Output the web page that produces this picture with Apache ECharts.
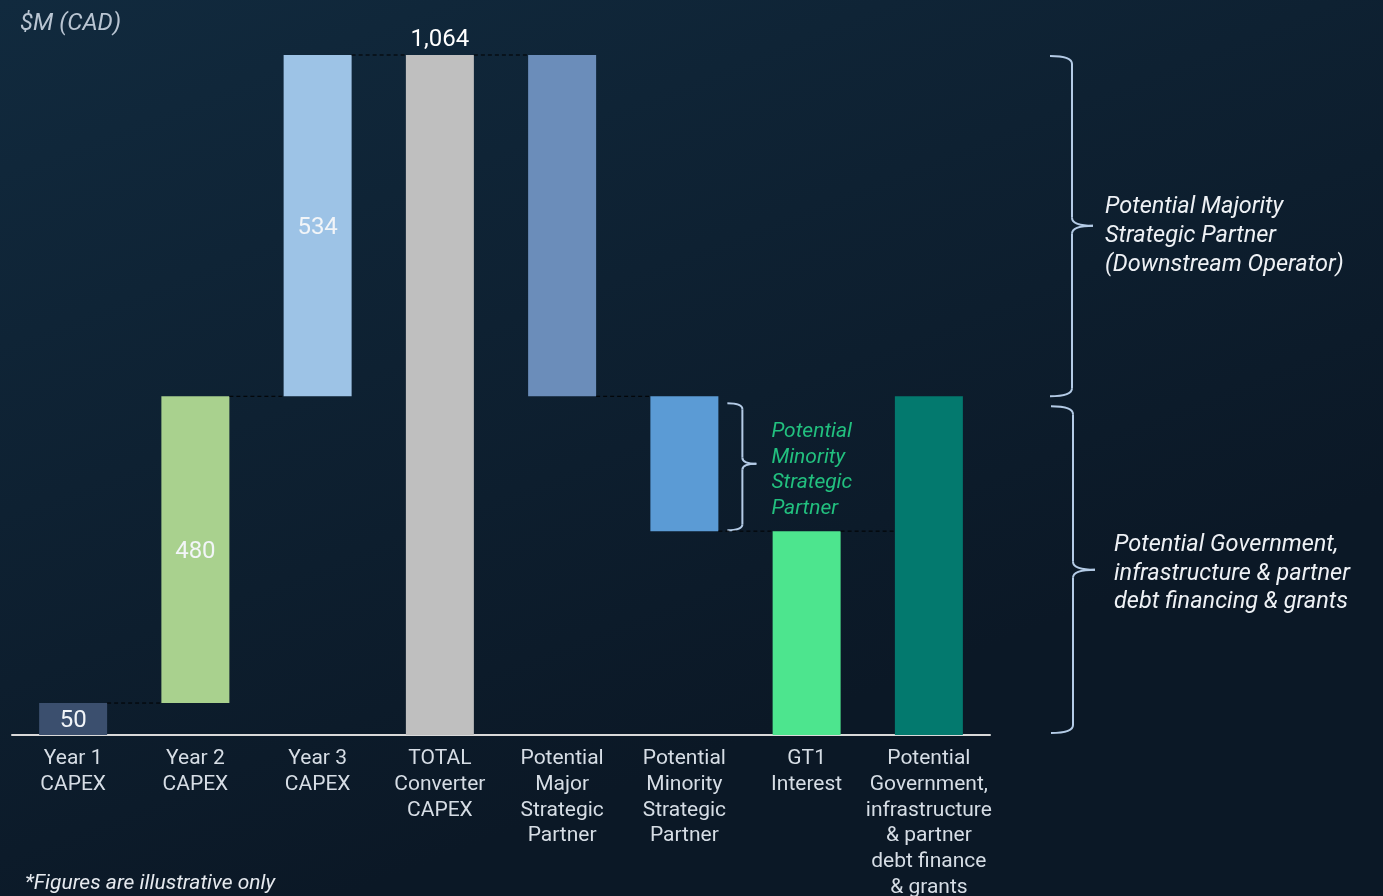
<!DOCTYPE html>
<html><head><meta charset="utf-8">
<script src="https://cdn.jsdelivr.net/npm/echarts@6/dist/echarts.min.js"></script>
<style>html,body{margin:0;padding:0;background:#0d2131;}#c{width:1383px;height:896px;}</style>
</head><body><div id="c"></div>
<script>
const categories = ['Year 1\nCAPEX','Year 2\nCAPEX','Year 3\nCAPEX','TOTAL\nConverter\nCAPEX','Potential\nMajor\nStrategic\nPartner','Potential\nMinority\nStrategic\nPartner','GT1\nInterest','Potential\nGovernment,\ninfrastructure\n& partner\ndebt finance\n& grants'];
const baseValues = [0, 50, 530, 0, 530, 319, 0, 0];
const barValues = [50, 480, 534, 1064, 534, 211, 319, 530];
const shownLabels = ['50', '480', '534', '1,064', '', '', '', ''];
const barColors = ['#3b4f6e','#a9d18e','#9dc3e6','#bfbfbf','#6b8dba','#5b9bd5','#4de58e','#03796e'];
// connector level between bar i and bar i+1 (end of bar i)
const connectorLevels = [
  baseValues[0]+barValues[0], baseValues[1]+barValues[1], baseValues[2]+barValues[2],
  baseValues[3]+barValues[3], baseValues[4], baseValues[5], baseValues[6]+barValues[6]
];
const FONT = 'Roboto';
const BARW = 68;

const chart = echarts.init(document.getElementById('c'));
chart.setOption({
  backgroundColor: {type:'linear', x:0, y:0, x2:0.25, y2:1, colorStops:[{offset:0,color:'#112a3e'},{offset:1,color:'#0b1826'}]},
  animation: false,
  grid: {left: 12, right: 393, top: 32, bottom: 161, outerBoundsMode: 'none', containLabel: false},
  xAxis: {
    type: 'category', data: categories,
    axisLine: {show: true, lineStyle: {color: '#d9d9d9', width: 2}},
    axisTick: {show: false},
    axisLabel: {interval: 0, color: '#d6dde5', fontFamily: FONT, fontSize: 21, lineHeight: 25.7, margin: 11}
  },
  yAxis: {type: 'value', min: 0, max: 1100, show: false, splitLine: {show: false}},
  series: [
    {type: 'bar', stack: 'w', data: baseValues, barWidth: BARW, itemStyle: {color: 'transparent'}, silent: true},
    {type: 'bar', stack: 'w', barWidth: BARW,
     data: barValues.map((v, i) => ({
       value: v,
       itemStyle: {color: barColors[i]},
       label: {show: shownLabels[i] !== '', formatter: shownLabels[i], position: i === 3 ? 'top' : 'inside',
               distance: 3, offset: i === 3 ? [0, 0] : [0, 2], color: i === 3 ? '#ffffff' : '#f2f5f8', fontFamily: FONT, fontSize: 24}
     }))},
    {type: 'custom', data: connectorLevels.map((l, i) => [i, l]), z: 5,
     renderItem: function (params, api) {
       const i = api.value(0), l = api.value(1);
       const a = api.coord([i, l]);
       const b = api.coord([i + 1, l]);
       return {type: 'line', shape: {x1: a[0] + BARW/2, y1: a[1], x2: b[0] - BARW/2, y2: b[1]},
               style: {stroke: '#000000', lineWidth: 1, lineDash: [4, 3]}};
     }}
  ]
});

const braceStyle = {stroke: '#b4cbe6', lineWidth: 2, fill: null};
function brace(x0, xv, xt, yTop, yBot, yMid, r) {
  return [
    {type: 'bezierCurve', shape: {x1: x0, y1: yTop, cpx1: xv, cpy1: yTop, x2: xv, y2: yTop + r}, style: braceStyle},
    {type: 'line', shape: {x1: xv, y1: yTop + r, x2: xv, y2: yMid - r}, style: braceStyle},
    {type: 'bezierCurve', shape: {x1: xv, y1: yMid - r, cpx1: xv, cpy1: yMid, x2: xt, y2: yMid}, style: braceStyle},
    {type: 'bezierCurve', shape: {x1: xt, y1: yMid, cpx1: xv, cpy1: yMid, x2: xv, y2: yMid + r}, style: braceStyle},
    {type: 'line', shape: {x1: xv, y1: yMid + r, x2: xv, y2: yBot - r}, style: braceStyle},
    {type: 'bezierCurve', shape: {x1: xv, y1: yBot - r, cpx1: xv, cpy1: yBot, x2: x0, y2: yBot}, style: braceStyle}
  ];
}
const yPx = v => chart.convertToPixel({yAxisIndex: 0}, v);
const xPx = i => chart.convertToPixel({xAxisIndex: 0}, i);
const yTotal = yPx(1064), yMidLvl = yPx(530), yZero = yPx(0), yGt = yPx(319);
const b1Mid = yTotal + (yMidLvl - yTotal) * 0.5;
const b2Top = yMidLvl + 10, b2Bot = yZero - 2;
const b2Mid = b2Top + (b2Bot - b2Top) * 0.5;
const minX = xPx(5) + BARW/2;
const b3Top = yMidLvl + 7, b3Bot = yGt - 1, b3Mid = (b3Top + b3Bot) / 2 - 3;
const graphics = []
  .concat(brace(1050, 1072, 1093, yTotal + 1, yMidLvl, b1Mid, 8))
  .concat(brace(1051, 1073, 1095, b2Top, b2Bot, b2Mid, 8))
  .concat(brace(minX + 9, minX + 24, minX + 38, b3Top, b3Bot, b3Mid, 6))
  .concat([
    {type: 'text', left: 1105, top: b1Mid - 33, style: {text: 'Potential Majority\nStrategic Partner\n(Downstream Operator)', fill: '#eef1f5', font: 'italic 23.5px Roboto', lineHeight: 29}},
    {type: 'text', left: 1114, top: b2Mid - 38.5, style: {text: 'Potential Government,\ninfrastructure & partner\ndebt financing & grants', fill: '#eef1f5', font: 'italic 23.5px Roboto', lineHeight: 28.5}},
    {type: 'text', left: minX + 53, top: b3Mid - 44.5, style: {text: 'Potential\nMinority\nStrategic\nPartner', fill: '#22c07f', font: 'italic 21px Roboto', lineHeight: 25.5}},
    {type: 'text', left: 20, top: 12, style: {text: '$M (CAD)', fill: '#b9c5d2', font: 'italic 24px Roboto'}},
    {type: 'text', left: 25, top: 873, style: {text: '*Figures are illustrative only', fill: '#e6eaef', font: 'italic 21px Roboto'}}
  ]);
chart.setOption({graphic: graphics});
</script></body></html>
